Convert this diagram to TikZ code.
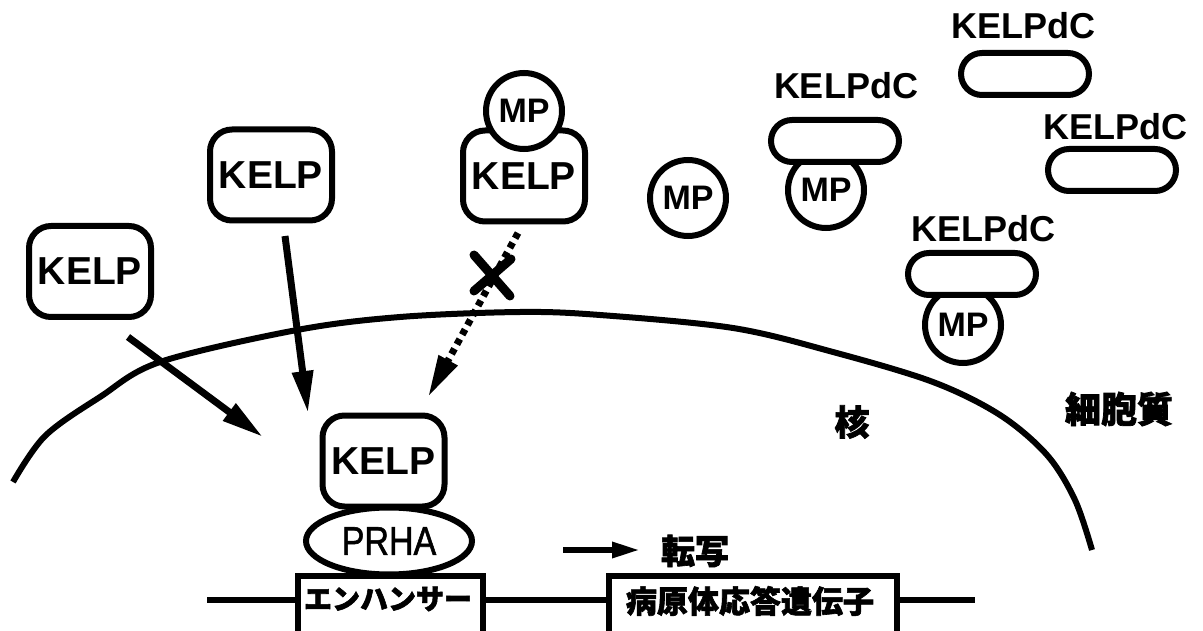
\documentclass[tikz,border=0pt]{standalone}
\usepackage{fontspec}
\setmainfont{Liberation Sans}
\newfontfamily\cjk{Noto Sans CJK JP}[BoldFeatures={FakeBold=2}]
\newfontfamily\prhafont{Liberation Sans}[FakeBold=1.5]
\usetikzlibrary{arrows.meta,shapes.geometric}
\begin{document}
\begin{tikzpicture}[x=1pt,y=-1pt,line width=6pt,
  kelpbox/.style={draw,fill=white,rounded corners=22pt,minimum width=122pt,minimum height=91pt,inner sep=0pt,
    font=\fontsize{39}{39}\selectfont\bfseries},
  mpcirc/.style={draw,fill=white,circle,minimum size=76pt,inner sep=0pt,
    font=\fontsize{34}{34}\selectfont\bfseries},
  pill/.style={draw,fill=white,rounded corners=21pt,minimum width=128pt,minimum height=42pt,inner sep=0pt},
  pilllbl/.style={inner sep=0pt,font=\fontsize{36}{36}\selectfont\bfseries},
  jp/.style={inner sep=0pt,font=\cjk\bfseries\fontsize{#1}{#1}\selectfont},
  genebox/.style={draw,rectangle,inner sep=0pt},
  movearrow/.style={-{Triangle[length=42pt,width=20pt]},line width=7pt},
  cross/.style={line width=9pt,line cap=round}
]
\clip (0,0) rectangle (1203,631);
% nucleus membrane
\draw[line width=6pt] plot[smooth,tension=0.55] coordinates {(13,482) (45,436) (100,397) (160,362) (297,330) (400,317) (520,312) (600,315) (733,328) (833,352) (933,382) (1000,415) (1047,455) (1075,500) (1092,550)};
% DNA
\node[genebox,minimum width=185pt,minimum height=75pt,anchor=north west] (enh) at (295,573) {};
\node[genebox,minimum width=288pt,minimum height=75pt,anchor=north west] (gene) at (606,573) {};
\coordinate (dnaL) at (207,600);
\coordinate (dnaR) at (975,600);
\draw (dnaL) -- (enh.west |- dnaL);
\draw (enh.east |- dnaL) -- (gene.west |- dnaL);
\draw (gene.east |- dnaL) -- (dnaR);
\node[jp=28] (enht) at (388,599) {エンハンサー};
\node[jp=31] (genet) at (750,601) {病原体応答遺伝子};
% PRHA and bound KELP
\node[draw,ellipse,minimum width=166pt,minimum height=67pt,inner sep=0pt,font=\prhafont\fontsize{40}{40}\selectfont] (prha) at (389,541) {\scalebox{0.85}[1]{PRHA}};
\node[kelpbox] (kelpB) at (383.5,461) {KELP};
% transcription
\coordinate (tra) at (563,550);
\coordinate (trb) at (640,550);
\draw[-{Triangle[length=28pt,width=15pt]},line width=6pt] (tra) -- (trb);
\node[jp=34] (trt) at (695,551) {転写};
% free KELP
\node[kelpbox] (kelpL) at (90,271.5) {KELP};
\node[kelpbox] (kelpM) at (271,175) {KELP};
\node[kelpbox] (kelpR) at (524,176) {KELP};
\node[mpcirc] (mpR) at (524,111) {MP};
% arrows
\coordinate (a1s) at (128,337);
\coordinate (a1e) at (263,437);
\coordinate (a2s) at (285,236);
\coordinate (a2e) at (308,413);
\coordinate (a3s) at (518,233);
\coordinate (a3e) at (428,397);
\draw[movearrow] (a1s) -- (a1e);
\draw[movearrow] (a2s) -- (a2e);
\draw[movearrow,dash pattern=on 6pt off 5pt] (a3s) -- (a3e);
\coordinate (x1a) at (474,255);
\coordinate (x1b) at (510,296);
\coordinate (x2a) at (511,259);
\coordinate (x2b) at (474,291);
\draw[cross] (x1a) -- (x1b);
\draw[cross] (x2a) -- (x2b);
% cytoplasm MP and KELPdC
\node[mpcirc] (mp0) at (688,198) {MP};
\node[mpcirc] (mp1) at (826,190) {MP};
\node[pill] (p1) at (835,141) {};
\node[pilllbl] (l1) at (846,86) {KELPdC};
\node[pill] (p2) at (1025,74) {};
\node[pilllbl] (l2) at (1023,26) {KELPdC};
\node[pill] (p3) at (1112,170) {};
\node[pilllbl] (l3) at (1115,127) {KELPdC};
\node[mpcirc] (mp4) at (963,325) {MP};
\node[pill] (p4) at (972,274) {};
\node[pilllbl] (l4) at (983,229) {KELPdC};
% region labels
\node[jp=35] (kaku) at (852,422) {核};
\node[jp=36] (saibo) at (1119,409) {細胞質};
\end{tikzpicture}
\end{document}
